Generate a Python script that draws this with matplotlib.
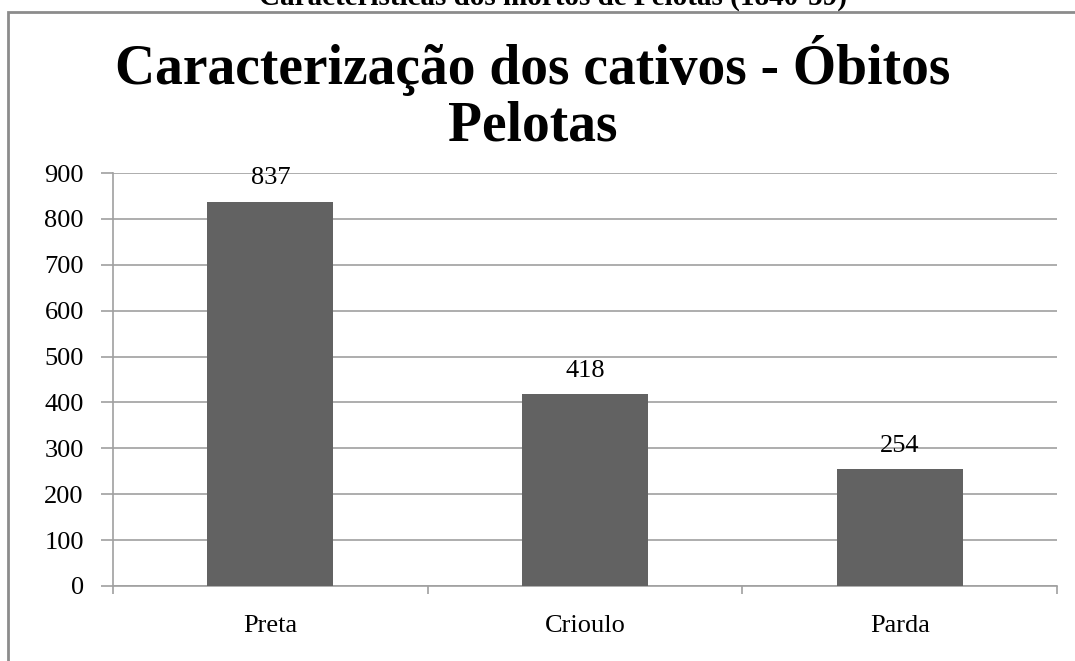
import matplotlib.pyplot as plt
from matplotlib.patches import Rectangle

categories = ["Preta", "Crioulo", "Parda"]
values = [837, 418, 254]
title = "Caracterização dos cativos - Óbitos\nPelotas"
header = "Características dos mortos de Pelotas (1840-59)"

plt.rcParams["font.family"] = ["Liberation Serif", "DejaVu Serif"]

fig = plt.figure(figsize=(10.75, 6.61), dpi=100)

# outer frame of the embedded chart (cut off at right/bottom)
fig.patches.append(Rectangle((8 / 1075, -0.05), 1.1, 1 - 12 / 661 + 0.05,
                             transform=fig.transFigure, fill=False,
                             edgecolor="#8c8c8c", linewidth=2))
# page caption above the chart, cut off by the top edge as in the source
fig.text(553 / 1075, 1 + 3 / 661, header, ha="center", va="center",
         fontsize=21, fontweight="bold")
fig.text(533 / 1075, 1 - 94 / 661, title, ha="center", va="center",
         fontsize=40, fontweight="bold", linespacing=1.1)

ax = fig.add_axes([113 / 1075, 1 - 586 / 661, (1057 - 113) / 1075, (586 - 173) / 661])
x = range(len(categories))
bars = ax.bar(x, values, width=0.4, color="#626262", zorder=3)
for b, v in zip(bars, values):
    ax.annotate(str(v), (b.get_x() + b.get_width() / 2, v), xytext=(0, 9),
                textcoords="offset points", ha="center", va="bottom", fontsize=19)

ax.set_xlim(-0.5, 2.5)
ax.set_ylim(0, 900)
ax.set_yticks(range(0, 901, 100))
ax.yaxis.grid(True, color="#a0a0a0", linewidth=1.2, zorder=0)
ax.set_xticks(list(x))
ax.set_xticklabels(categories)
ax.set_xticks([-0.5, 0.5, 1.5, 2.5], minor=True)
ax.tick_params(axis="x", which="major", length=0, pad=21, labelsize=19)
ax.tick_params(axis="x", which="minor", length=6, color="#a0a0a0", width=1.2)
ax.tick_params(axis="y", length=9, color="#a0a0a0", width=1.2, labelsize=19, pad=12)
for s in ["top", "right"]:
    ax.spines[s].set_visible(False)
for s in ["left", "bottom"]:
    ax.spines[s].set_color("#a0a0a0")
    ax.spines[s].set_linewidth(1.2)

fig.savefig("out.png", dpi=100)
